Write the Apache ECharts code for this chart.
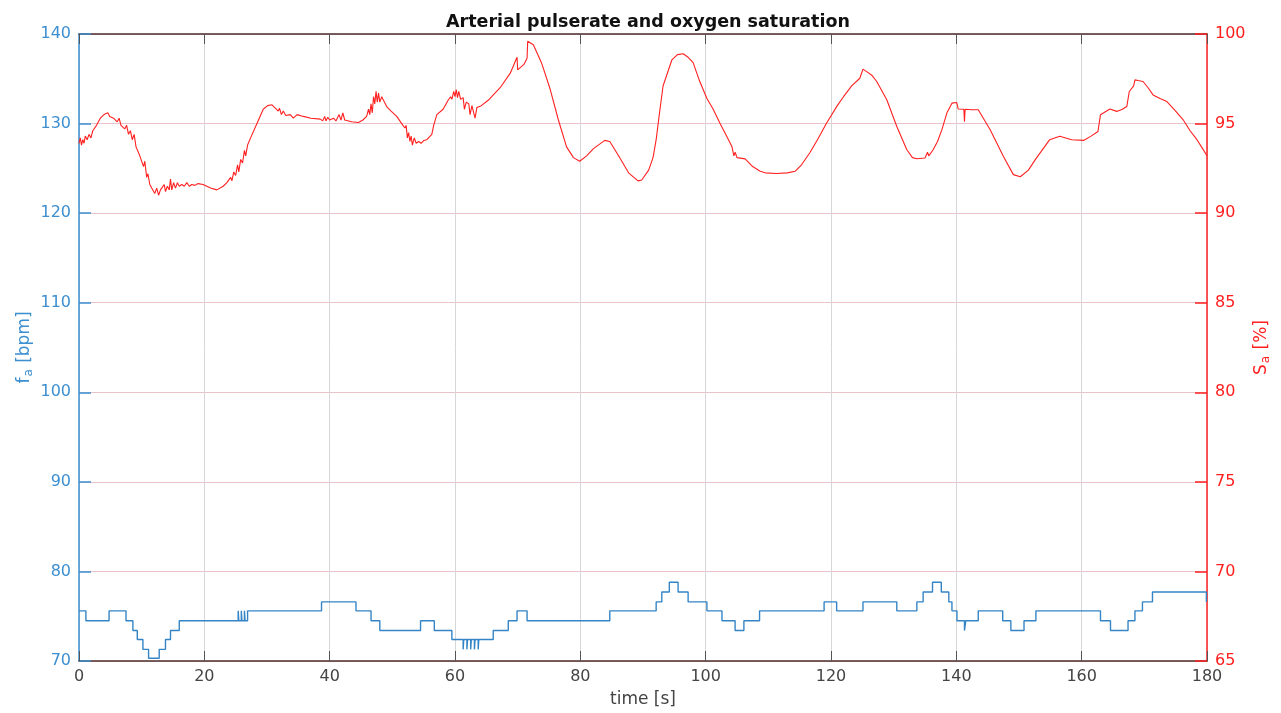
<!DOCTYPE html>
<html>
<head>
<meta charset="utf-8">
<script src="https://cdn.jsdelivr.net/npm/echarts@6/dist/echarts.min.js"></script>
<style>html,body{margin:0;padding:0;background:#fff}#c{width:1281px;height:713px}</style>
</head>
<body>
<div id="c"></div>
<script>
// Pulse rate (step values hold from each time until the next)
const pulseTime = [0,1.1,4.8,7.5,8.6,9.3,10.2,11.1,12.8,13.8,14.6,16.0,25.4,25.5,25.9,26.0,26.4,26.5,26.9,38.7,44.2,46.6,48.0,54.5,56.7,59.5,61.3,61.4,61.9,62.0,62.5,62.6,63.1,63.2,63.7,63.8,66.1,68.5,69.9,71.5,84.7,92.1,93.0,94.2,95.6,97.2,100.2,102.6,104.7,106.1,108.6,118.9,120.9,125.1,130.5,133.7,134.7,136.2,137.6,138.8,139.3,140.1,141.3,141.5,143.5,147.4,148.7,150.8,152.7,163.0,164.6,167.4,168.5,169.7,171.3,179.9,180];
const pulseValues = [75.6,74.5,75.6,74.5,73.4,72.4,71.3,70.3,71.3,72.4,73.4,74.5,75.6,74.5,75.6,74.5,75.6,74.5,75.6,76.6,75.6,74.5,73.4,74.5,73.4,72.4,71.3,72.4,71.3,72.4,71.3,72.4,71.3,72.4,71.3,72.4,73.4,74.5,75.6,74.5,75.6,76.6,77.7,78.8,77.7,76.6,75.6,74.5,73.4,74.5,75.6,76.6,75.6,76.6,75.6,76.6,77.7,78.8,77.7,76.6,75.6,74.5,73.4,74.5,75.6,74.5,73.4,74.5,75.6,74.5,73.4,74.5,75.6,76.6,77.7,76.6,76.6];

// Oxygen saturation
const satTime = [0.0,0.2,0.4,0.6,0.8,1.0,1.3,1.6,1.9,2.2,2.5,2.8,3.1,3.4,3.7,4.0,4.3,4.6,4.9,5.2,5.5,5.8,6.1,6.4,6.7,7.0,7.3,7.6,7.9,8.2,8.5,8.8,9.1,9.4,9.7,10.0,10.3,10.5,10.8,11.0,11.3,11.6,11.9,12.1,12.4,12.7,13.0,13.3,13.6,13.8,14.1,14.4,14.6,14.8,15.1,15.4,15.7,16.0,16.4,16.8,17.2,17.6,18.0,18.5,19.0,19.8,21.0,22.0,23.0,23.6,24.2,24.4,24.7,25.0,25.3,25.5,25.8,26.1,26.4,26.6,26.9,27.5,28.4,29.4,30.1,30.8,31.2,31.4,31.8,32.0,32.3,32.6,33.0,33.7,34.2,34.8,35.8,37.0,38.5,38.9,39.2,39.4,39.7,40.0,40.6,41.0,41.5,41.8,42.1,42.4,42.7,43.5,44.6,45.3,45.9,46.2,46.4,46.6,46.8,47.0,47.2,47.4,47.6,47.8,48.0,48.3,49.1,49.8,50.7,51.5,52.0,52.2,52.4,52.6,52.8,53.0,53.2,53.5,53.8,54.2,54.6,55.0,55.5,56.3,56.6,57.1,58.1,58.9,59.3,59.5,59.8,60.0,60.2,60.4,60.6,60.9,61.3,61.5,61.8,62.2,62.4,62.7,63.0,63.2,63.5,64.2,65.3,67.2,68.8,69.9,70.0,71.0,71.5,71.6,72.5,73.8,75.2,76.5,77.8,78.9,79.9,81.0,82.1,83.9,84.7,86.1,87.7,89.2,89.8,90.9,91.6,92.1,92.6,93.2,94.6,95.5,96.4,97.2,98.0,99.0,100.2,101.2,102.3,103.5,104.2,104.5,104.7,105.0,106.3,107.5,108.7,109.5,111.3,113.0,114.3,115.3,116.6,118.0,119.3,121.0,122.0,123.3,124.6,125.1,125.7,126.5,127.3,128.9,130.5,132.1,133.0,133.7,135.0,135.4,135.6,136.3,137.0,137.7,138.5,139.3,140.05,140.3,141.2,141.3,141.4,142.5,143.5,145.4,147.5,149.1,150.2,151.5,152.6,154.9,156.5,158.4,160.3,161.5,162.6,163.0,164.5,165.6,166.5,167.2,167.6,168.3,168.5,169.0,169.8,170.6,171.4,172.5,173.6,175.0,176.2,177.3,178.4,179.3,180.0];
const satValues = [93.9,94.2,93.8,94.1,93.9,94.3,94.1,94.4,94.2,94.6,94.5,94.9,95.0,95.3,95.2,95.5,95.4,95.6,95.4,95.5,95.3,95.4,95.1,95.3,94.9,95.0,94.7,94.9,94.4,94.6,94.1,94.4,93.7,93.8,93.2,93.3,92.6,92.9,92.0,92.2,91.6,91.4,91.5,91.1,91.4,91.0,91.3,91.2,91.6,91.2,91.5,91.3,91.9,91.3,91.7,91.4,91.7,91.5,91.6,91.5,91.7,91.5,91.6,91.55,91.65,91.6,91.4,91.3,91.5,91.7,92.0,91.8,92.3,92.1,92.7,92.3,93.0,92.8,93.5,93.2,93.8,94.3,95.0,95.8,96.0,96.05,95.9,96.0,95.7,95.85,95.5,95.7,95.45,95.5,95.3,95.5,95.4,95.3,95.25,95.15,95.4,95.15,95.35,95.2,95.3,95.15,95.5,95.2,95.6,95.2,95.3,95.1,95.06,95.2,95.4,95.8,95.5,96.1,95.6,96.5,96.1,96.8,96.2,96.7,96.2,96.5,95.95,95.7,95.4,95.0,94.75,94.9,94.2,94.5,94.0,94.3,93.8,94.2,93.9,94.0,93.9,94.05,94.1,94.4,94.9,95.5,95.8,96.3,96.5,96.35,96.8,96.5,96.9,96.45,96.8,96.35,96.45,95.8,96.2,96.1,95.5,96.0,95.9,95.3,95.9,96.0,96.3,97.0,97.8,98.7,98.0,98.3,98.65,99.6,99.4,98.4,96.9,95.2,93.7,93.1,92.9,93.2,93.6,94.06,94.0,93.2,92.25,91.8,91.85,92.4,93.1,94.1,95.5,97.1,98.55,98.85,98.9,98.7,98.4,97.4,96.4,95.8,95.0,94.2,93.7,93.2,93.4,93.1,93.03,92.6,92.34,92.25,92.21,92.25,92.34,92.7,93.36,94.2,95.03,96.0,96.5,97.1,97.53,98.04,97.9,97.7,97.35,96.33,94.84,93.54,93.1,93.04,93.08,93.4,93.2,93.54,94.0,94.66,95.6,96.14,96.18,95.81,95.8,95.1,95.8,95.77,95.77,94.66,93.17,92.15,92.03,92.4,92.99,94.1,94.29,94.1,94.06,94.3,94.56,95.49,95.81,95.68,95.8,95.95,96.79,97.1,97.44,97.4,97.35,97.0,96.6,96.4,96.23,95.7,95.21,94.6,94.1,93.6,93.2];

const blue = '#3d8fd0';
const red = '#ff2020';
const dark = '#4e2e2e';
const font = 'DejaVu Sans';

const chart = echarts.init(document.getElementById('c'), null, {renderer: 'canvas'});
chart.setOption({
  animation: false,
  backgroundColor: '#ffffff',
  title: {
    text: 'Arterial pulserate and oxygen saturation',
    left: 643, top: 8, textAlign: 'center',
    textStyle: {fontFamily: font, fontSize: 17.5, fontWeight: 'bold', color: '#111'}
  },
  grid: {left: 79, right: 74, top: 34, bottom: 50, containLabel: false},
  xAxis: [{
    type: 'value', min: 0, max: 180, interval: 20, position: 'bottom',
    name: 'time [s]', nameLocation: 'middle', nameGap: 30,
    nameTextStyle: {fontFamily: font, fontSize: 17, color: '#444'},
    axisLine: {show: true, onZero: false, lineStyle: {color: dark, width: 1.5}},
    axisTick: {show: true, inside: true, length: 10, lineStyle: {color: '#555'}},
    axisLabel: {fontFamily: font, fontSize: 16, color: '#444', margin: 8},
    splitLine: {show: true, lineStyle: {color: '#d6d6d6', width: 1}}
  }, {
    type: 'value', min: 0, max: 180, interval: 20, position: 'top',
    axisLine: {show: true, onZero: false, lineStyle: {color: dark, width: 1.5}},
    axisTick: {show: true, inside: true, length: 10, lineStyle: {color: '#555'}},
    axisLabel: {show: false},
    splitLine: {show: false}
  }],
  yAxis: [{
    type: 'value', min: 70, max: 140, interval: 10, position: 'left',
    name: '{n|f}{s|a}{n| [bpm]}', nameLocation: 'middle', nameGap: 44, nameRotate: 90,
    nameMoveOverlap: false,
    nameTextStyle: {color: blue, rich: {
      n: {fontFamily: font, fontSize: 17, color: blue},
      s: {fontFamily: font, fontSize: 12, color: blue, verticalAlign: 'bottom', padding: [9, 1, 0, 1]}
    }},
    axisLine: {show: true, onZero: false, lineStyle: {color: blue, width: 1.5}},
    axisTick: {show: true, inside: true, length: 12, lineStyle: {color: blue, width: 1.5}},
    axisLabel: {fontFamily: font, fontSize: 16, color: blue, margin: 8},
    splitLine: {show: true, lineStyle: {color: '#e8c4ca', width: 1}}
  }, {
    type: 'value', min: 65, max: 100, interval: 5, position: 'right',
    name: '{n|S}{s|a}{n| [%]}', nameLocation: 'middle', nameGap: 44, nameRotate: 90,
    nameMoveOverlap: false,
    nameTextStyle: {color: red, rich: {
      n: {fontFamily: font, fontSize: 17, color: red},
      s: {fontFamily: font, fontSize: 12, color: red, verticalAlign: 'bottom', padding: [9, 1, 0, 1]}
    }},
    axisLine: {show: true, onZero: false, lineStyle: {color: red, width: 1.5}},
    axisTick: {show: true, inside: true, length: 12, lineStyle: {color: red, width: 1.5}},
    axisLabel: {fontFamily: font, fontSize: 16, color: red, margin: 8},
    splitLine: {show: false}
  }],
  series: [{
    name: 'pulse', type: 'line', xAxisIndex: 0, yAxisIndex: 0, step: 'end',
    showSymbol: false, symbol: 'none',
    lineStyle: {color: '#3585c6', width: 1.4},
    data: pulseTime.map((t, i) => [t, pulseValues[i]])
  }, {
    name: 'sat', type: 'line', xAxisIndex: 0, yAxisIndex: 1,
    showSymbol: false, symbol: 'none',
    lineStyle: {color: red, width: 1.1},
    data: satTime.map((t, i) => [t, satValues[i]])
  }]
});
</script>
</body>
</html>
